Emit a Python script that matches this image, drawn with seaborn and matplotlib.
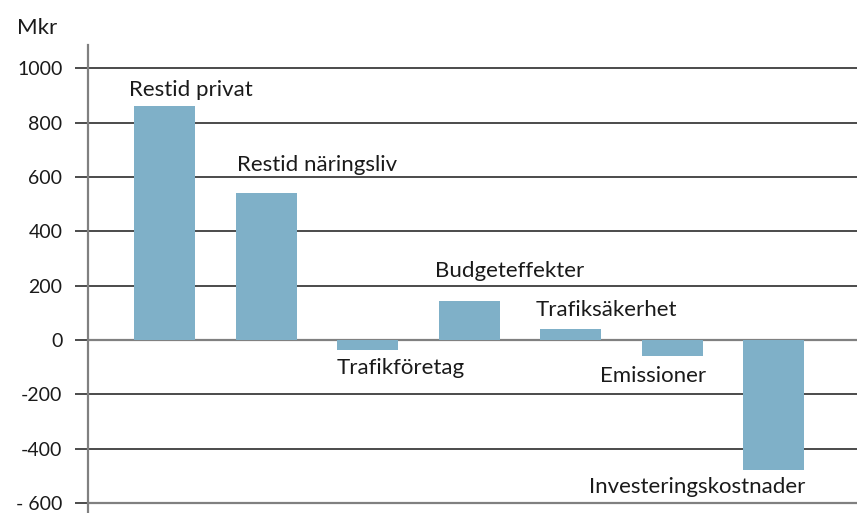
import matplotlib
matplotlib.use("Agg")
import matplotlib.pyplot as plt
import seaborn as sns
import pandas as pd

sns.set_theme(style="white")
plt.rcParams["font.family"] = ["Lato", "DejaVu Sans"]

categories = ["Restid privat", "Restid näringsliv", "Trafikföretag", "Budgeteffekter",
              "Trafiksäkerhet", "Emissioner", "Investeringskostnader"]
values = [861, 541, -37, 143, 40, -59, -478]
yticks = [1000, 800, 600, 400, 200, 0, -200, -400, -600]
ytick_labels = ["1000", "800", "600", "400", "200", "0", "-200", "-400", "- 600"]

# label placement: (x offset from bar centre, y value, horizontal alignment)
label_pos = [(-0.35, 920, "left"), (-0.29, 644, "left"), (-0.31, -103, "left"),
             (-0.34, 254, "left"), (-0.35, 110, "left"), (0.335, -132, "right"),
             (0.31, -541, "right")]

df = pd.DataFrame({"cat": categories, "val": values})

fig = plt.figure(figsize=(8.57, 5.13), dpi=100)
ax = fig.add_axes([88 / 857, 0, 1 - 88 / 857, 468 / 513])

ax.axhline(0, color="#808080", lw=1.6, zorder=0)
for t in yticks:
    if t not in (0, -600):
        ax.axhline(t, color="#1a1a1a", lw=1.1, zorder=0)
ax.axhline(-600, color="#808080", lw=1.6, zorder=0)

sns.barplot(data=df, x="cat", y="val", color="#7fb0c8", saturation=1, width=0.6,
            linewidth=0, ax=ax, zorder=2)

for i, (dx, yv, ha) in enumerate(label_pos):
    ax.text(i + dx, yv, categories[i], ha=ha, va="center", fontsize=16, color="#1a1a1a")

ax.set_xlim(-0.754, 6.82)
ax.set_ylim(-637, 1086)
ax.set_yticks(yticks)
ax.set_yticklabels(ytick_labels, fontsize=14, color="#1a1a1a")
ax.tick_params(axis="y", length=9.4, width=1.1, color="#1a1a1a", pad=9, left=True)
ax.set_xticks([])
ax.set_xlabel("")
ax.set_ylabel("")
for s in ["top", "right", "bottom"]:
    ax.spines[s].set_visible(False)
ax.spines["left"].set_color("#808080")
ax.spines["left"].set_linewidth(1.6)

fig.text(17 / 857, 1 - 28 / 513, "Mkr", fontsize=16, va="center", ha="left", color="#1a1a1a")

fig.savefig("out.png", dpi=100)
